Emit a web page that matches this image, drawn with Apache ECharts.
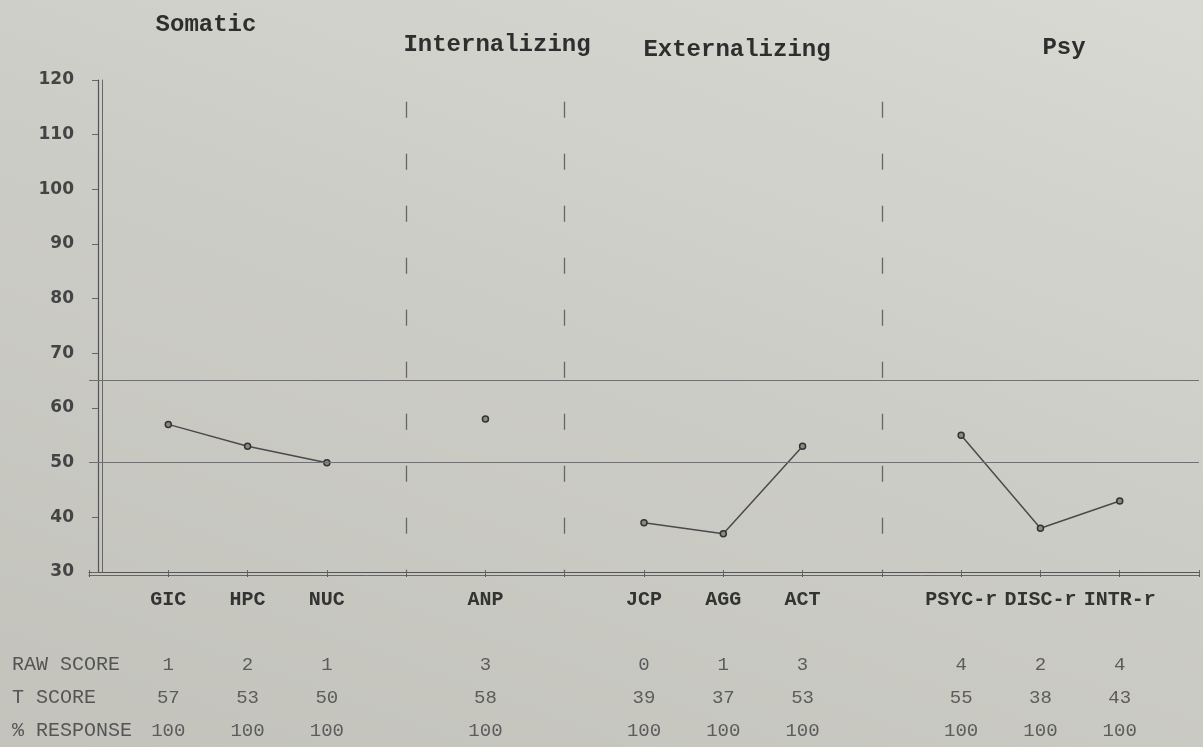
<!DOCTYPE html>
<html>
<head>
<meta charset="utf-8">
<script src="https://cdn.jsdelivr.net/npm/echarts@6/dist/echarts.min.js"></script>
<style>
html,body{margin:0;padding:0;}
#chart{width:1203px;height:747px;background:linear-gradient(200deg,#d9d9d3 0%,#cdcdc7 45%,#c3c3bc 100%);}
</style>
</head>
<body>
<div id="chart"></div>
<script>
// ---- data ----
const groupNames = ['Somatic', 'Internalizing', 'Externalizing', 'Psy'];
const scales = ['GIC', 'HPC', 'NUC', 'ANP', 'JCP', 'AGG', 'ACT', 'PSYC-r', 'DISC-r', 'INTR-r'];
const scaleGroup = [0, 0, 0, 1, 2, 2, 2, 3, 3, 3];
const rawScore = [1, 2, 1, 3, 0, 1, 3, 4, 2, 4];
const tScore = [57, 53, 50, 58, 39, 37, 53, 55, 38, 43];
const pctResponse = [100, 100, 100, 100, 100, 100, 100, 100, 100, 100];
const yTicks = [30, 40, 50, 60, 70, 80, 90, 100, 110, 120];
const refLines = [65, 50];
const rowHeaders = ['RAW SCORE', 'T SCORE', '% RESPONSE'];

// ---- build category slots: pad, group scales separated by separator slots, pad ----
const slots = ['pad0'];
const slotScale = [-1];
const separators = [];
scales.forEach((s, i) => {
  if (i > 0 && scaleGroup[i] !== scaleGroup[i - 1]) {
    const k = 'sep' + separators.length;
    separators.push(k);
    slots.push(k);
    slotScale.push(-1);
  }
  slots.push(s);
  slotScale.push(i);
});
slots.push('pad1');
slotScale.push(-1);

const seriesData = slots.map((s, j) => slotScale[j] >= 0 ? tScore[slotScale[j]] : null);

function rowAxis(values, margin) {
  return {
    type: 'category', data: slots, position: 'bottom', boundaryGap: false,
    axisLine: {show: false, onZero: false}, axisTick: {show: false},
    axisLabel: {
      interval: 0, margin: margin, color: '#5c5c5c',
      fontFamily: 'Liberation Mono', fontSize: 19,
      formatter: (v, j) => slotScale[j] >= 0 ? String(values[slotScale[j]]) : ''
    }
  };
}

const mono = 'Liberation Mono';
const chart = echarts.init(document.getElementById('chart'), null, {renderer: 'canvas'});

const graphic = [];
const titlePos = [[206, 25], [497, 45], [737, 50], [1064, 48]];
groupNames.forEach((g, i) => {
  graphic.push({type: 'text', x: titlePos[i][0], y: titlePos[i][1], style: {
    text: g, font: 'bold 24px "Liberation Mono"', fill: '#2e2e2e', textAlign: 'center', textVerticalAlign: 'middle'
  }});
});
const rowY = [665, 698, 731];
rowHeaders.forEach((h, i) => {
  graphic.push({type: 'text', x: 12, y: rowY[i], style: {
    text: h, font: '20px "Liberation Mono"', fill: '#555', textVerticalAlign: 'middle'
  }});
});

const option = {
  animation: false,
  backgroundColor: 'transparent',
  grid: {left: 89, right: 4, top: 80, bottom: 175},
  graphic: graphic,
  xAxis: [
    {
      type: 'category', data: slots, boundaryGap: false, position: 'bottom',
      axisLine: {onZero: false, lineStyle: {color: '#555', width: 1.2}},
      axisTick: {show: true, interval: 0, inside: false, length: 5, lineStyle: {color: '#555'}},
      axisLabel: {
        interval: 0, margin: 18, color: '#333', fontFamily: mono, fontWeight: 'bold', fontSize: 20,
        formatter: (v, j) => slotScale[j] >= 0 ? v : ''
      },
      splitLine: {show: false}
    },
    {
      type: 'category', data: slots, boundaryGap: false, position: 'bottom', offset: 3,
      axisLine: {onZero: false, lineStyle: {color: '#666', width: 1}},
      axisTick: {show: true, interval: 0, inside: true, length: 5, lineStyle: {color: '#666'}},
      axisLabel: {show: false}
    },
    rowAxis(rawScore, 83),
    rowAxis(tScore, 116),
    rowAxis(pctResponse, 149)
  ],
  yAxis: [
    {
      type: 'value', min: 30, max: 120, interval: 10, offset: -9,
      axisLine: {show: true, lineStyle: {color: '#555', width: 1.2}},
      axisTick: {show: true, inside: false, length: 6, lineStyle: {color: '#666'}},
      axisLabel: {color: '#444', fontFamily: 'DejaVu Sans', fontWeight: 'bold', fontSize: 17, margin: 24},
      splitLine: {show: false}
    },
    {
      type: 'value', min: 30, max: 120, interval: 10, offset: -13, position: 'left',
      axisLine: {show: true, lineStyle: {color: '#666', width: 1}},
      axisTick: {show: false}, axisLabel: {show: false}, splitLine: {show: false}
    }
  ],
  series: [{
    type: 'line',
    data: seriesData,
    xAxisIndex: 0, yAxisIndex: 0,
    connectNulls: false,
    showSymbol: true,
    symbol: 'circle', symbolSize: 6,
    lineStyle: {color: '#4a4a4a', width: 1.5},
    itemStyle: {color: '#8a8a86', borderColor: '#333', borderWidth: 1.5},
    markLine: {
      silent: true, symbol: 'none', label: {show: false},
      data: refLines.map(v => ({yAxis: v, lineStyle: {color: '#707070', width: 1.2, type: 'solid'}}))
        .concat(separators.map(s => [
          {coord: [s, 116], lineStyle: {color: '#666', width: 1.3, type: [16, 36]}},
          {coord: [s, 30]}
        ]))
    }
  }]
};
chart.setOption(option);
</script>
</body>
</html>
